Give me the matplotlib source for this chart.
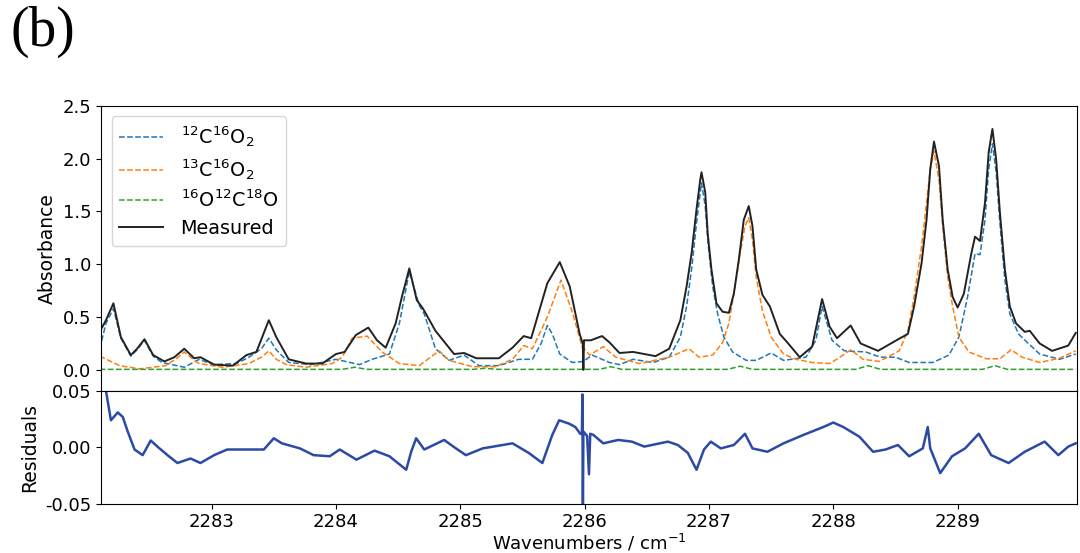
import matplotlib
matplotlib.use("Agg")
import matplotlib.pyplot as plt

plt.rcParams['axes.unicode_minus'] = False

# ---------------- data ----------------
meas_x = [2282.10, 2282.15, 2282.21, 2282.27, 2282.35, 2282.40, 2282.46, 2282.53, 2282.62,
          2282.70, 2282.78, 2282.86, 2282.91, 2283.02, 2283.17, 2283.28, 2283.36, 2283.41,
          2283.46, 2283.52, 2283.62, 2283.76, 2283.89, 2284.00, 2284.07, 2284.16, 2284.26,
          2284.33, 2284.40, 2284.48, 2284.53, 2284.59, 2284.65, 2284.70, 2284.80, 2284.95,
          2285.03, 2285.13, 2285.31, 2285.42, 2285.51, 2285.57, 2285.70, 2285.80, 2285.88,
          2285.96, 2285.985, 2285.99, 2285.995, 2286.05, 2286.14, 2286.20, 2286.28, 2286.39,
          2286.57, 2286.68, 2286.77, 2286.82, 2286.86, 2286.90, 2286.93, 2286.94, 2286.97,
          2286.99, 2287.02, 2287.06, 2287.11, 2287.16, 2287.20, 2287.24, 2287.28, 2287.32,
          2287.35, 2287.38, 2287.43, 2287.49, 2287.57, 2287.63, 2287.73, 2287.83, 2287.91,
          2287.97, 2288.03, 2288.14, 2288.22, 2288.36, 2288.53, 2288.60, 2288.65, 2288.71,
          2288.75, 2288.78, 2288.81, 2288.85, 2288.88, 2288.92, 2288.96, 2289.00, 2289.05,
          2289.11, 2289.14, 2289.18, 2289.22, 2289.25, 2289.28, 2289.31, 2289.34, 2289.38,
          2289.42, 2289.47, 2289.54, 2289.58, 2289.66, 2289.76, 2289.89, 2289.95]
meas_y = [0.36, 0.47, 0.63, 0.31, 0.14, 0.20, 0.29, 0.14, 0.08,
          0.12, 0.20, 0.11, 0.12, 0.05, 0.04, 0.14, 0.17, 0.32,
          0.47, 0.31, 0.10, 0.06, 0.06, 0.15, 0.17, 0.33, 0.40,
          0.28, 0.21, 0.44, 0.69, 0.96, 0.66, 0.58, 0.37, 0.15,
          0.16, 0.11, 0.11, 0.21, 0.32, 0.30, 0.82, 1.02, 0.79,
          0.34, 0.25, 0.00, 0.28, 0.28, 0.32, 0.26, 0.16, 0.17,
          0.13, 0.20, 0.47, 0.79, 1.10, 1.52, 1.80, 1.87, 1.68,
          1.29, 0.95, 0.63, 0.55, 0.54, 0.72, 1.04, 1.42, 1.55,
          1.36, 0.95, 0.71, 0.60, 0.34, 0.26, 0.12, 0.22, 0.67,
          0.41, 0.30, 0.42, 0.25, 0.18, 0.295, 0.34, 0.60, 1.01,
          1.42, 1.90, 2.16, 1.93, 1.42, 0.95, 0.69, 0.59, 0.72,
          1.10, 1.26, 1.22, 1.58, 2.06, 2.28, 1.99, 1.49, 0.95,
          0.60, 0.44, 0.36, 0.37, 0.25, 0.18, 0.23, 0.35]

c12_x = [2282.10, 2282.15, 2282.21, 2282.27, 2282.35, 2282.40, 2282.46, 2282.53, 2282.60,
         2282.78, 2282.90, 2283.01, 2283.20, 2283.30, 2283.40, 2283.46, 2283.52, 2283.62,
         2283.80, 2284.00, 2284.19, 2284.29, 2284.43, 2284.51, 2284.59, 2284.67, 2284.71,
         2284.80, 2284.91, 2285.03, 2285.15, 2285.31, 2285.47, 2285.58, 2285.65, 2285.70,
         2285.74, 2285.80, 2285.90, 2285.99, 2286.06, 2286.20, 2286.28, 2286.39, 2286.55,
         2286.68, 2286.77, 2286.82, 2286.86, 2286.90, 2286.94, 2286.97, 2286.995, 2287.03,
         2287.07, 2287.12, 2287.19, 2287.30, 2287.38, 2287.50, 2287.60, 2287.78, 2287.86,
         2287.91, 2287.99, 2288.09, 2288.26, 2288.38, 2288.50, 2288.61, 2288.80, 2288.93,
         2289.01, 2289.08, 2289.14, 2289.18, 2289.22, 2289.25, 2289.28, 2289.31, 2289.34,
         2289.38, 2289.42, 2289.49, 2289.56, 2289.66, 2289.82, 2289.95]
c12_y = [0.20, 0.44, 0.58, 0.30, 0.13, 0.19, 0.28, 0.13, 0.07,
         0.025, 0.10, 0.05, 0.06, 0.12, 0.20, 0.30, 0.19, 0.07,
         0.05, 0.10, 0.05, 0.10, 0.15, 0.44, 0.93, 0.61, 0.53,
         0.20, 0.09, 0.14, 0.04, 0.04, 0.10, 0.10, 0.25, 0.42,
         0.34, 0.15, 0.07, 0.08, 0.14, 0.07, 0.05, 0.10, 0.07,
         0.12, 0.31, 0.60, 0.95, 1.39, 1.77, 1.55, 1.17, 0.79,
         0.53, 0.31, 0.17, 0.09, 0.09, 0.16, 0.09, 0.12, 0.28,
         0.60, 0.28, 0.18, 0.17, 0.12, 0.12, 0.07, 0.07, 0.14,
         0.31, 0.69, 1.10, 1.09, 1.42, 1.90, 2.14, 1.87, 1.39,
         0.85, 0.53, 0.34, 0.26, 0.15, 0.10, 0.15]

c13_x = [2282.10, 2282.26, 2282.42, 2282.63, 2282.72, 2282.78, 2282.86, 2282.90, 2283.09,
         2283.30, 2283.40, 2283.46, 2283.52, 2283.60, 2283.76, 2283.97, 2284.05, 2284.13,
         2284.25, 2284.37, 2284.51, 2284.67, 2284.76, 2284.83, 2284.91, 2285.10, 2285.28,
         2285.42, 2285.51, 2285.58, 2285.70, 2285.81, 2285.90, 2285.98, 2286.04, 2286.15,
         2286.25, 2286.44, 2286.68, 2286.84, 2286.92, 2287.03, 2287.11, 2287.16, 2287.21,
         2287.25, 2287.29, 2287.32, 2287.35, 2287.38, 2287.43, 2287.50, 2287.60, 2287.70,
         2287.83, 2287.97, 2288.04, 2288.14, 2288.24, 2288.37, 2288.53, 2288.60, 2288.65,
         2288.71, 2288.75, 2288.78, 2288.81, 2288.85, 2288.88, 2288.92, 2288.96, 2289.01,
         2289.09, 2289.23, 2289.34, 2289.43, 2289.52, 2289.66, 2289.82, 2289.95]
c13_y = [0.13, 0.04, 0.01, 0.04, 0.11, 0.17, 0.09, 0.06, 0.025,
         0.06, 0.12, 0.18, 0.10, 0.05, 0.025, 0.06, 0.12, 0.30,
         0.32, 0.17, 0.06, 0.04, 0.12, 0.18, 0.09, 0.03, 0.03,
         0.10, 0.23, 0.20, 0.50, 0.85, 0.55, 0.22, 0.14, 0.22,
         0.12, 0.06, 0.12, 0.20, 0.12, 0.14, 0.26, 0.44, 0.79,
         1.10, 1.36, 1.44, 1.23, 0.88, 0.56, 0.31, 0.15, 0.10,
         0.07, 0.06, 0.11, 0.19, 0.10, 0.08, 0.18, 0.37, 0.69,
         1.17, 1.58, 1.90, 2.07, 1.80, 1.36, 0.88, 0.60, 0.31,
         0.17, 0.105, 0.105, 0.19, 0.12, 0.07, 0.11, 0.18]

c18_x = [2282.10, 2284.05, 2284.15, 2284.25, 2285.10, 2285.20, 2285.30, 2286.12, 2286.21,
         2286.30, 2287.15, 2287.25, 2287.35, 2288.18, 2288.28, 2288.38, 2289.20, 2289.30,
         2289.40, 2289.95]
c18_y = [0.005, 0.005, 0.025, 0.005, 0.005, 0.015, 0.005, 0.005, 0.03,
         0.005, 0.005, 0.035, 0.005, 0.005, 0.04, 0.005, 0.005, 0.04,
         0.005, 0.005]

res_x = [2282.12, 2282.152, 2282.19, 2282.245, 2282.285, 2282.325, 2282.38, 2282.445, 2282.51,
         2282.57, 2282.645, 2282.725, 2282.83, 2282.91, 2283.02, 2283.125, 2283.26, 2283.42,
         2283.50, 2283.565, 2283.71, 2283.82, 2283.95, 2284.03, 2284.165, 2284.31, 2284.43,
         2284.565, 2284.605, 2284.645, 2284.71, 2284.87, 2284.965, 2285.045, 2285.18, 2285.42,
         2285.55, 2285.66, 2285.74, 2285.795, 2285.875, 2285.925, 2285.965, 2285.978, 2285.982,
         2285.986, 2285.99, 2286.02, 2286.035, 2286.045, 2286.07, 2286.15, 2286.27, 2286.38,
         2286.48, 2286.67, 2286.75, 2286.83, 2286.90, 2286.96, 2287.015, 2287.095, 2287.20,
         2287.29, 2287.35, 2287.47, 2287.60, 2287.76, 2287.92, 2288.00, 2288.08, 2288.21,
         2288.32, 2288.42, 2288.52, 2288.61, 2288.72, 2288.76, 2288.78, 2288.86, 2288.955,
         2289.06, 2289.17, 2289.27, 2289.41, 2289.54, 2289.70, 2289.81, 2289.89, 2289.95]
res_y = [0.060, 0.049, 0.024, 0.031, 0.027, 0.014, -0.002, -0.007, 0.006,
         0.000, -0.007, -0.014, -0.010, -0.014, -0.007, -0.002, -0.002, -0.002,
         0.008, 0.0035, -0.001, -0.007, -0.008, -0.002, -0.011, -0.003, -0.008,
         -0.020, -0.004, 0.008, -0.002, 0.0065, -0.001, -0.007, -0.001, 0.0035,
         -0.005, -0.014, 0.011, 0.024, 0.021, 0.018, 0.012, 0.012, 0.047,
         -0.060, 0.014, 0.010, -0.024, 0.012, 0.011, 0.0035, 0.0065, 0.005,
         0.0006, 0.005, 0.002, -0.005, -0.020, -0.002, 0.005, -0.001, 0.002,
         0.012, -0.001, -0.004, 0.0035, 0.011, 0.018, 0.022, 0.018, 0.0094,
         -0.004, -0.002, 0.002, -0.008, -0.001, 0.018, -0.001, -0.023, -0.008,
         -0.001, 0.012, -0.007, -0.014, -0.004, 0.005, -0.007, 0.0006, 0.0035]

labels = [r'$^{12}$C$^{16}$O$_2$', r'$^{13}$C$^{16}$O$_2$',
          r'$^{16}$O$^{12}$C$^{18}$O', 'Measured']
x_ticks = [2283, 2284, 2285, 2286, 2287, 2288, 2289]
abs_ticks = [0.0, 0.5, 1.0, 1.5, 2.0, 2.5]
res_ticks = [-0.05, 0.00, 0.05]

# ---------------- figure ----------------
fig = plt.figure(figsize=(10.8, 5.53), dpi=100)
ax1 = fig.add_axes([0.0935, 0.2929, 0.9037, 0.5160])
ax2 = fig.add_axes([0.0935, 0.0895, 0.9037, 0.2034], sharex=ax1)

ax1.plot(c12_x, c12_y, ls='--', color='tab:blue', lw=1.1, label=labels[0])
ax1.plot(c13_x, c13_y, ls='--', color='tab:orange', lw=1.1, label=labels[1])
ax1.plot(c18_x, c18_y, ls='--', color='tab:green', lw=1.1, label=labels[2])
ax1.plot(meas_x, meas_y, ls='-', color='#222222', lw=1.4, label=labels[3])

ax1.set_ylim(-0.2, 2.5)
ax1.set_yticks(abs_ticks)
ax1.set_yticklabels([f'{v:.1f}' for v in abs_ticks])
ax1.set_ylabel('Absorbance', fontsize=13.5)
ax1.tick_params(axis='y', labelsize=13)
ax1.tick_params(axis='x', bottom=False, labelbottom=False)
ax1.legend(loc='upper left', fontsize=13.8, handlelength=2.3, handletextpad=0.9,
           labelspacing=0.42, borderaxespad=0.55)

ax2.plot(res_x, res_y, color='#2b4aa6', lw=1.8)
ax2.set_ylim(-0.05, 0.05)
ax2.set_yticks(res_ticks)
ax2.set_yticklabels([f'{v:.2f}' for v in res_ticks])
ax2.set_xticks(x_ticks)
ax2.set_xticklabels([str(v) for v in x_ticks])
ax2.set_xlim(2282.11, 2289.96)
ax2.tick_params(labelsize=13)
ax2.set_ylabel('Residuals', fontsize=13.5)
ax2.set_xlabel('Wavenumbers / cm$^{-1}$', fontsize=13, labelpad=1.0)

fig.text(0.010, 0.99, '(b)', fontsize=40, family='Liberation Serif', va='top', ha='left')

fig.savefig('out.png', dpi=100)
